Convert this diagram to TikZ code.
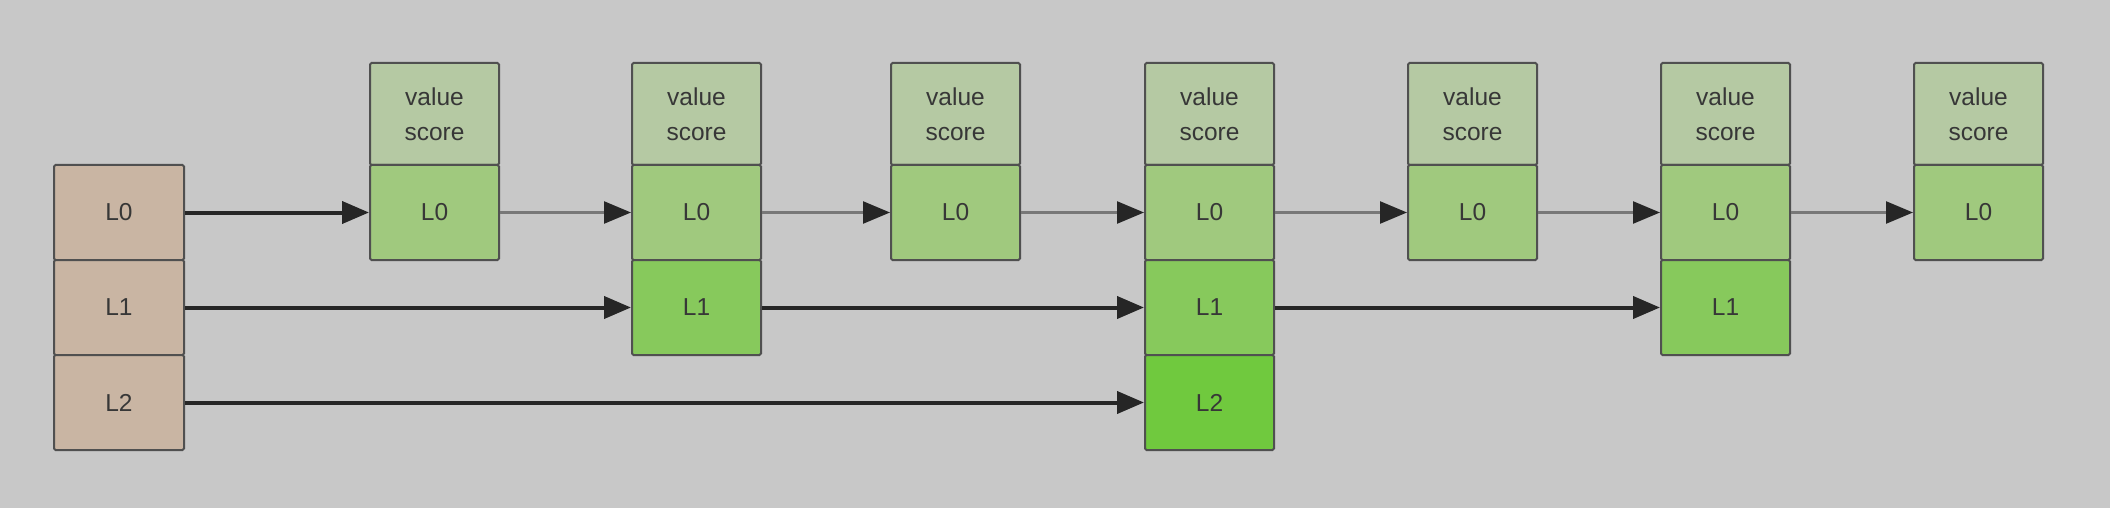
\documentclass[tikz,border=0pt]{standalone}
\usepackage{fontspec}
\setmainfont{Liberation Sans}
\usetikzlibrary{arrows.meta}
\definecolor{bg}{RGB}{200,200,200}
\definecolor{edge}{RGB}{80,80,80}
\definecolor{txt}{RGB}{55,55,55}
\definecolor{headc}{RGB}{201,181,163}
\definecolor{valc}{RGB}{181,201,163}
\definecolor{lzc}{RGB}{160,201,126}
\definecolor{lonec}{RGB}{135,201,92}
\definecolor{ltwoc}{RGB}{112,201,62}
\definecolor{dark}{RGB}{38,38,38}
\definecolor{grayline}{RGB}{120,120,120}
\begin{document}
\begin{tikzpicture}[x=1pt,y=-1pt,
  cell/.style={draw=edge, line width=2pt, minimum width=129pt, inner sep=0pt,
    text=txt, font=\fontsize{24.5}{35}\selectfont, rounded corners=1.5pt},
  valbox/.style={cell, fill=valc, minimum height=102pt, align=center},
  lzero/.style={cell, fill=lzc, minimum height=95pt},
  lone/.style={cell, fill=lonec, minimum height=95pt},
  ltwo/.style={cell, fill=ltwoc, minimum height=95pt},
  headcell/.style={cell, fill=headc, minimum height=95pt, minimum width=130pt},
  strong/.style={line width=4pt, draw=dark, -{Triangle[length=27pt,width=22pt]}},
  weak/.style={line width=2.5pt, draw=grayline, -{Triangle[length=27pt,width=22pt,color=dark]}}
]
\fill[bg] (0,0) rectangle (2110,508);
\useasboundingbox (0,0) rectangle (2110,508);

% head
\node[headcell] (h0) at (119,212.5) {L0};
\node[headcell] (h1) at (119,307.5) {L1};
\node[headcell] (h2) at (119,402.5) {L2};

% columns
\foreach \i/\x in {1/434.5,2/696.5,3/955.5,4/1209.5,5/1472.5,6/1725.5,7/1978.5}{
  \node[valbox] (v\i) at (\x,114) {value\\score};
  \node[lzero] (a\i) at (\x,212.5) {L0};
}
\node[lone] (b2) at (696.5,307.5) {L1};
\node[lone] (b4) at (1209.5,307.5) {L1};
\node[lone] (b6) at (1725.5,307.5) {L1};
\node[ltwo] (c4) at (1209.5,402.5) {L2};

% links
\draw[strong] (h0) -- (a1);
\foreach \i/\j in {1/2,2/3,3/4,4/5,5/6,6/7}{
  \draw[weak] (a\i) -- (a\j);
}
\draw[strong] (h1) -- (b2);
\draw[strong] (b2) -- (b4);
\draw[strong] (b4) -- (b6);
\draw[strong] (h2) -- (c4);
\end{tikzpicture}
\end{document}
